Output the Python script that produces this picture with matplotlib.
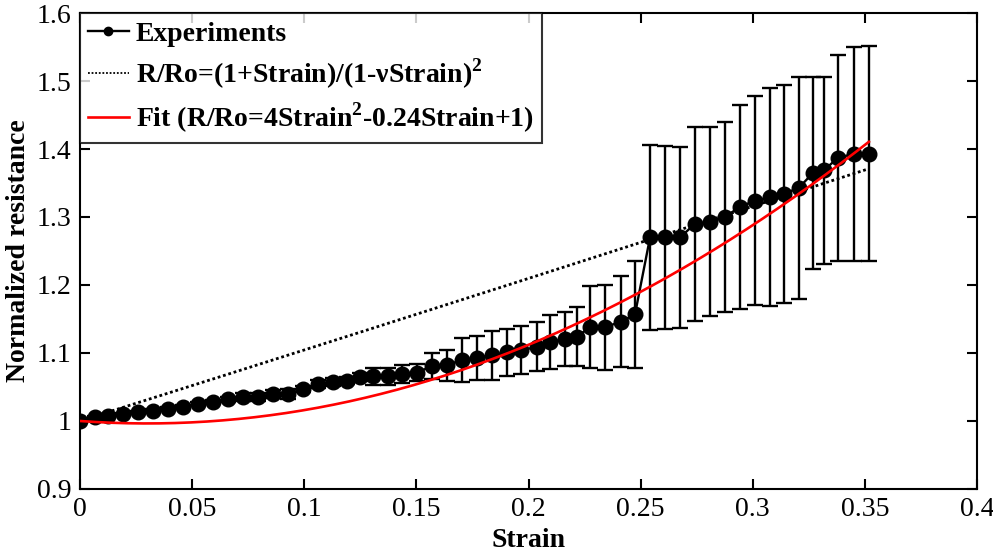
import numpy as np
import matplotlib
matplotlib.use("Agg")
import matplotlib.pyplot as plt
from matplotlib.lines import Line2D

# Measured strain and normalized resistance (mean, half-width of error bar)
strain = [0.0000, 0.0067, 0.0125, 0.0192, 0.0259, 0.0326, 0.0392, 0.0459, 0.0526,
          0.0593, 0.0660, 0.0727, 0.0794, 0.0861, 0.0928, 0.0994, 0.1061, 0.1128,
          0.1191, 0.1249, 0.1307, 0.1373, 0.1436, 0.1503, 0.1570, 0.1637, 0.1703,
          0.1770, 0.1837, 0.1904, 0.1967, 0.2038, 0.2096, 0.2163, 0.2216, 0.2274,
          0.2341, 0.2412, 0.2475, 0.2542, 0.2609, 0.2676, 0.2742, 0.2809, 0.2876,
          0.2943, 0.3010, 0.3077, 0.3139, 0.3206, 0.3269, 0.3318, 0.3380, 0.3452,
          0.3518]
resistance = [1.000, 1.006, 1.007, 1.010, 1.013, 1.015, 1.018, 1.021, 1.025,
              1.028, 1.032, 1.035, 1.035, 1.040, 1.040, 1.047, 1.054, 1.057,
              1.059, 1.065, 1.066, 1.066, 1.069, 1.071, 1.081, 1.082, 1.090,
              1.093, 1.097, 1.101, 1.104, 1.109, 1.116, 1.121, 1.124, 1.138,
              1.138, 1.146, 1.157, 1.270, 1.270, 1.270, 1.290, 1.293, 1.300,
              1.315, 1.324, 1.329, 1.334, 1.343, 1.365, 1.369, 1.387, 1.393,
              1.393]
resistance_err = [0.000, 0.002, 0.002, 0.002, 0.002, 0.002, 0.002, 0.003, 0.003,
                  0.003, 0.004, 0.006, 0.006, 0.006, 0.007, 0.004, 0.006, 0.006,
                  0.005, 0.006, 0.0125, 0.0125, 0.013, 0.0125, 0.019, 0.023, 0.032,
                  0.032, 0.036, 0.035, 0.035, 0.036, 0.040, 0.040, 0.043, 0.060,
                  0.0625, 0.067, 0.079, 0.136, 0.135, 0.133, 0.143, 0.139, 0.140,
                  0.150, 0.154, 0.160, 0.160, 0.163, 0.141, 0.1375, 0.151, 0.157,
                  0.158]

# Model parameters
nu = 0.02                       # Poisson-type coefficient in the geometric model
fit_coeffs = [4.0, -0.24, 1.0]  # quadratic fit: a*s^2 + b*s + c

xticks = [0, 0.05, 0.1, 0.15, 0.2, 0.25, 0.3, 0.35, 0.4]
xticklabels = ["0", "0.05", "0.1", "0.15", "0.2", "0.25", "0.3", "0.35", "0.4"]
yticks = [0.9, 1.0, 1.1, 1.2, 1.3, 1.4, 1.5, 1.6]
yticklabels = ["0.9", "1", "1.1", "1.2", "1.3", "1.4", "1.5", "1.6"]

labels = ["Experiments",
          "R/Ro=(1+Strain)/(1-\u03bdStrain)$^{\\mathbf{2}}$",
          "Fit (R/Ro=4Strain$^{\\mathbf{2}}$-0.24Strain+1)"]

plt.rcParams["font.family"] = ["Liberation Serif", "DejaVu Serif"]
plt.rcParams["mathtext.fontset"] = "custom"
plt.rcParams["mathtext.rm"] = "Liberation Serif"
plt.rcParams["mathtext.bf"] = "Liberation Serif:bold"

fig = plt.figure(figsize=(9.93, 5.54), dpi=100)
ax = fig.add_axes([80 / 993, 1 - 489 / 554, (977 - 80) / 993, (489 - 13) / 554])

s = np.array(strain)
s_model = np.linspace(0, s[-1], 200)
r_model = (1 + s_model) / (1 - nu * s_model) ** 2
r_fit = np.polyval(fit_coeffs, s_model)

# experimental data: error bars, then the connected markers
ax.errorbar(strain, resistance, yerr=resistance_err, fmt="none", ecolor="black",
            elinewidth=1.7, capsize=5.5, capthick=1.7, zorder=3)
ax.plot(strain, resistance, color="black", lw=1.7, marker="o", markersize=10.5,
        zorder=3)
ax.plot(s_model, r_model, color="black", lw=2.0, linestyle=(0, (1, 1)), zorder=2)
ax.plot(s_model, r_fit, color="#ff0000", lw=1.9, zorder=4)

handles = [
    Line2D([], [], color="black", lw=1.7, marker="o", markersize=6),
    Line2D([], [], color="black", lw=1.3, linestyle=(0, (1, 1))),
    Line2D([], [], color="#ff0000", lw=1.9),
]

ax.set_xlim(0, 0.4)
ax.set_ylim(0.9, 1.6)
ax.set_xticks(xticks)
ax.set_xticklabels(xticklabels)
ax.set_yticks(yticks)
ax.set_yticklabels(yticklabels)
ax.tick_params(direction="in", length=7, width=1.5, top=True, right=True,
               labelsize=20, pad=6)
for sp in ax.spines.values():
    sp.set_linewidth(1.5)

ax.set_xlabel("Strain", fontsize=20, fontweight="bold", labelpad=4)
ax.set_ylabel("Normalized resistance", fontsize=20, fontweight="bold", labelpad=4)

leg = ax.legend(handles, labels, loc="upper left", bbox_to_anchor=(0, 1),
                borderaxespad=0, prop={"size": 20, "weight": "bold"},
                frameon=True, fancybox=False, edgecolor="black",
                handlelength=1.45, handletextpad=0.25, labelspacing=0.35,
                borderpad=0.3)
leg.get_frame().set_linewidth(1.5)

fig.savefig("out.png", dpi=100)
